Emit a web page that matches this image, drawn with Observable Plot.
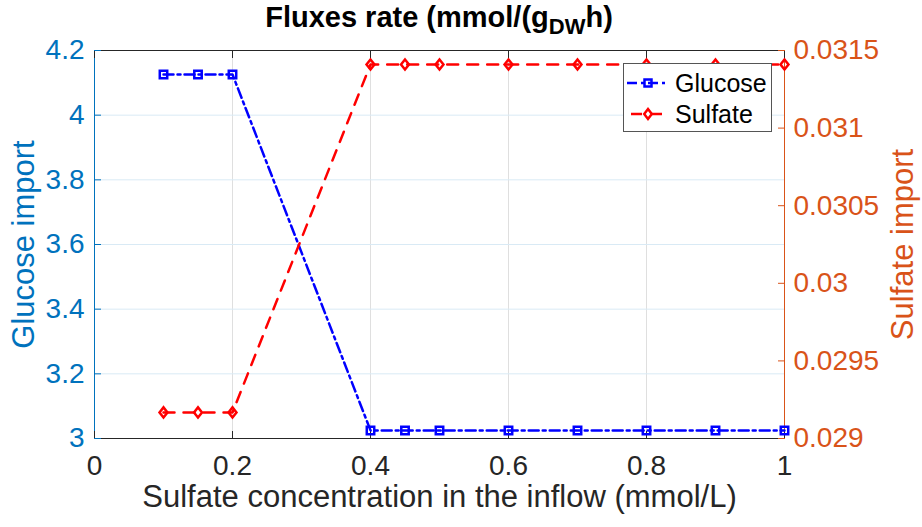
<!DOCTYPE html>
<html>
<head>
<meta charset="utf-8">
<script src="https://cdn.jsdelivr.net/npm/d3@7"></script>
<script src="https://cdn.jsdelivr.net/npm/@observablehq/plot@0.6"></script>
<style>
  html, body { margin: 0; padding: 0; background: #fff; }
  #wrap { position: relative; width: 922px; height: 527px; font-family: "Liberation Sans", Arial, sans-serif; }
  #chart { position: absolute; left: 0; top: 0; }
  #title { position: absolute; left: 0; width: 878px; top: 0px; line-height: 35px; text-align: center; font-weight: bold; font-size: 29px; color: #000; white-space: nowrap; }
  #title sub { font-size: 22px; vertical-align: -7px; line-height: 0; }
  #legend { position: absolute; left: 623px; top: 63px; width: 147px; height: 67px; border: 1px solid #555; background: #fff; font-size: 25px; color: #000; }
  .row { position: absolute; left: 0; height: 30px; display: flex; align-items: center; }
  .row svg { display: block; }
  .row span { margin-left: 3px; }
</style>
</head>
<body>
<div id="wrap">
  <div id="chart"></div>
  <div id="title">Fluxes rate (mmol/(g<sub>DW</sub>h)</div>
  <div id="legend">
    <div class="row" style="top:4px"><svg width="48" height="30"><line x1="3" x2="45" y1="15" y2="15" stroke="#0000ff" stroke-width="2.5" stroke-dasharray="10,4,3,4"/><rect x="20.5" y="11.5" width="7" height="7" fill="none" stroke="#0000ff" stroke-width="2.5"/></svg><span>Glucose</span></div>
    <div class="row" style="top:35px"><svg width="48" height="30"><line x1="3" x2="45" y1="15" y2="15" stroke="#ff0000" stroke-width="2.5" stroke-dasharray="11,9" stroke-dashoffset="-4"/><path d="M24,10 L27.8,15 L24,20 L20.2,15 Z" fill="none" stroke="#ff0000" stroke-width="2.5"/></svg><span>Sulfate</span></div>
  </div>
</div>
<script>
const xValues = [0.1, 0.15, 0.2, 0.4, 0.45, 0.5, 0.6, 0.7, 0.8, 0.9, 1.0];
const glucose = [4.126, 4.126, 4.126, 3.025, 3.025, 3.025, 3.025, 3.025, 3.025, 3.025, 3.025];
const sulfate = [0.029168, 0.029168, 0.029168, 0.031410, 0.031410, 0.031410, 0.031410, 0.031410, 0.031410, 0.031410, 0.031410];
const xTicks = [0, 0.2, 0.4, 0.6, 0.8, 1];
const xTickLabels = ["0", "0.2", "0.4", "0.6", "0.8", "1"];
const glucoseTicks = [3, 3.2, 3.4, 3.6, 3.8, 4, 4.2];
const glucoseTickLabels = ["3", "3.2", "3.4", "3.6", "3.8", "4", "4.2"];
const sulfateTicks = [0.029, 0.0295, 0.03, 0.0305, 0.031, 0.0315];
const sulfateTickLabels = ["0.029", "0.0295", "0.03", "0.0305", "0.031", "0.0315"];
const gDomain = [3, 4.2];
const sDomain = [0.029, 0.0315];

// map sulfate values into the glucose (left) scale space
const s2g = s => gDomain[0] + (s - sDomain[0]) / (sDomain[1] - sDomain[0]) * (gDomain[1] - gDomain[0]);

const gData = xValues.map((x, i) => ({x, y: glucose[i]}));
const sData = xValues.map((x, i) => ({x, y: s2g(sulfate[i])}));
const xt = xTicks.map((v, i) => ({v, label: xTickLabels[i]}));
const gt = glucoseTicks.map((v, i) => ({v, label: glucoseTickLabels[i]}));
const st = sulfateTicks.map((v, i) => ({v: s2g(v), label: sulfateTickLabels[i]}));

const blueAxis = "#0072bd";
const orangeAxis = "#d95319";
const dark = "#262626";
const font = "'Liberation Sans', Arial, sans-serif";

// MATLAB-like diamond marker
const matlabDiamond = {
  draw(context, size) {
    const r = Math.sqrt(size / Math.PI);
    context.moveTo(0, -r * 1.2);
    context.lineTo(r * 0.95, 0);
    context.lineTo(0, r * 1.2);
    context.lineTo(-r * 0.95, 0);
    context.closePath();
  }
};

const chart = Plot.plot({
  width: 922,
  height: 527,
  marginLeft: 94,
  marginRight: 138,
  marginTop: 50,
  marginBottom: 89,
  style: {fontFamily: font, background: "white", overflow: "visible"},
  x: {domain: [0, 1], axis: null},
  y: {domain: gDomain, axis: null},
  marks: [
    Plot.gridX(xTicks, {stroke: "#dfdfdf", strokeOpacity: 1}),
    Plot.gridY(glucoseTicks, {stroke: "#d9eaf5", strokeOpacity: 1}),
    Plot.ruleY([gDomain[1]], {stroke: dark, strokeWidth: 1}),
    Plot.ruleY([gDomain[0]], {stroke: dark, strokeWidth: 1}),
    Plot.ruleX([0], {stroke: blueAxis, strokeWidth: 1}),
    Plot.ruleX([1], {stroke: orangeAxis, strokeWidth: 1}),
    Plot.axisX({ticks: xTicks, anchor: "bottom", tickSize: -7, text: null, stroke: dark}),
    Plot.axisX({ticks: xTicks, anchor: "top", tickSize: -7, text: null, stroke: dark}),
    Plot.axisY({ticks: glucoseTicks, anchor: "left", tickSize: -7, text: null, stroke: blueAxis}),
    Plot.axisY({ticks: st.map(d => d.v), anchor: "right", tickSize: -7, text: null, stroke: orangeAxis}),
    Plot.line(gData, {x: "x", y: "y", stroke: "#0000ff", strokeWidth: 2.5, strokeDasharray: "10,4,3,4"}),
    Plot.dot(gData, {x: "x", y: "y", symbol: "square", r: 4.2, stroke: "#0000ff", strokeWidth: 2.5, fill: "none"}),
    Plot.line(sData, {x: "x", y: "y", stroke: "#ff0000", strokeWidth: 2.5, strokeDasharray: "11,9"}),
    Plot.dot(sData, {x: "x", y: "y", symbol: matlabDiamond, r: 4.2, stroke: "#ff0000", strokeWidth: 2.5, fill: "none"}),
    Plot.text(xt, {x: "v", y: gDomain[0], text: "label", dy: 28, fontSize: 28, fill: dark}),
    Plot.text(gt, {x: 0, y: "v", text: "label", dx: -10, textAnchor: "end", fontSize: 28, fill: blueAxis}),
    Plot.text(st, {x: 1, y: "v", text: "label", dx: 9, textAnchor: "start", fontSize: 28, fill: orangeAxis}),
    Plot.text(["Sulfate concentration in the inflow (mmol/L)"], {frameAnchor: "bottom", dy: 68, fontSize: 31, fill: dark}),
    Plot.text(["Glucose import"], {frameAnchor: "left", textAnchor: "middle", dx: -70, rotate: -90, fontSize: 31, fill: blueAxis}),
    Plot.text(["Sulfate import"], {frameAnchor: "right", textAnchor: "middle", dx: 119, rotate: -90, fontSize: 31, fill: orangeAxis})
  ]
});
document.getElementById("chart").appendChild(chart);
</script>
</body>
</html>
